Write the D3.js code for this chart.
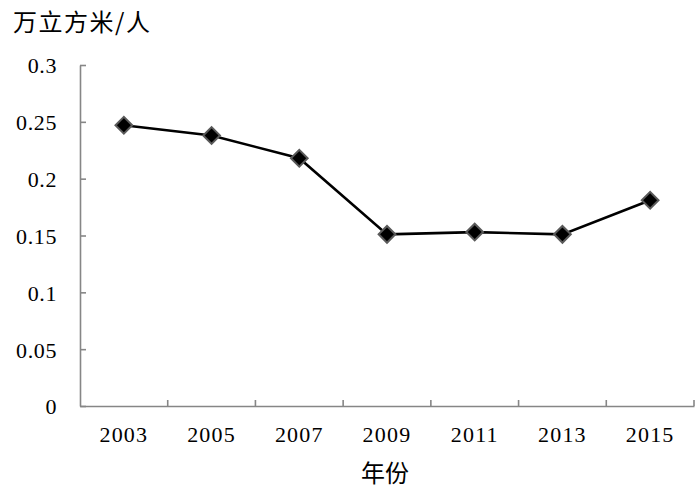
<!DOCTYPE html>
<html><head><meta charset="utf-8">
<script src="https://cdn.jsdelivr.net/npm/d3@7"></script>
<style>body{margin:0;background:#fff}</style>
</head><body>
<svg id="c" width="700" height="488"></svg>
<script>
const years = ["2003","2005","2007","2009","2011","2013","2015"];
const values = [0.247, 0.238, 0.218, 0.151, 0.153, 0.151, 0.181];
const yTicks = [0, 0.05, 0.1, 0.15, 0.2, 0.25, 0.3];
const yLabels = ["0","0.05","0.1","0.15","0.2","0.25","0.3"];
const yTitle = "万立方米/人";
const xTitle = "年份";

const svg = d3.select("#c");
const L = 80, R = 694, T = 65, B = 406;
const x = d3.scaleBand().domain(years).range([L, R]).paddingInner(0).paddingOuter(0);
const y = d3.scaleLinear().domain([0, 0.3]).range([B, T]);
const axisColor = "#868686";
const numFont = "'Liberation Serif','Times New Roman',serif";
const cjkFont = "'Noto Sans CJK SC','Noto Sans CJK JP',sans-serif";

// Y axis
const gy = svg.append("g").attr("transform", `translate(${L},0)`)
  .call(d3.axisLeft(y).tickValues(yTicks).tickSizeInner(-6).tickSizeOuter(0).tickFormat((d,i)=>yLabels[i]));
gy.attr("font-family", null);
gy.select(".domain").attr("stroke", axisColor).attr("stroke-width", 1.6);
gy.selectAll(".tick line").attr("stroke", axisColor).attr("stroke-width", 1.6);
gy.selectAll(".tick text").attr("x", -23).attr("dy", "0.36em")
  .style("font-family", numFont).style("font-size", "22px").attr("letter-spacing", 0.6).attr("fill", "#000");

// X axis
const gx = svg.append("g").attr("transform", `translate(0,${B})`)
  .call(d3.axisBottom(x).tickSize(0).tickSizeOuter(0));
gx.attr("font-family", null);
gx.select(".domain").attr("stroke", axisColor).attr("stroke-width", 1.6);
gx.selectAll(".tick text").attr("y", 36).attr("dy", 0)
  .style("font-family", numFont).style("font-size", "22px").attr("letter-spacing", 1.2).attr("fill", "#000");
// category boundary ticks (inward)
const bounds = years.map(d => x(d) + x.bandwidth());
svg.append("g").selectAll("line").data(bounds).join("line")
  .attr("x1", d => d).attr("x2", d => d)
  .attr("y1", B).attr("y2", B - 6)
  .attr("stroke", axisColor).attr("stroke-width", 1.6);

// line
const cx = d => x(d) + x.bandwidth() / 2;
svg.append("path").datum(values.map((v,i)=>[cx(years[i]), y(v)]))
  .attr("d", d3.line()).attr("fill", "none").attr("stroke", "#000").attr("stroke-width", 2.6);

// markers
svg.append("g").selectAll("path").data(values).join("path")
  .attr("d", d3.symbol(d3.symbolSquare, 140))
  .attr("transform", (d,i) => `translate(${cx(years[i])},${y(d)}) rotate(45)`)
  .attr("fill", "#000").attr("stroke", "#5a5a5a").attr("stroke-width", 2);

// titles
svg.append("text").attr("x", 13).attr("y", 31).text(yTitle)
  .style("font-family", cjkFont).style("font-size", "24px").attr("letter-spacing", 1.5).attr("fill", "#000");
svg.append("text").attr("x", (L + R) / 2 - 2).attr("y", 482).attr("text-anchor", "middle").text(xTitle)
  .style("font-family", cjkFont).style("font-size", "24px").attr("fill", "#000");
</script>
</body></html>
